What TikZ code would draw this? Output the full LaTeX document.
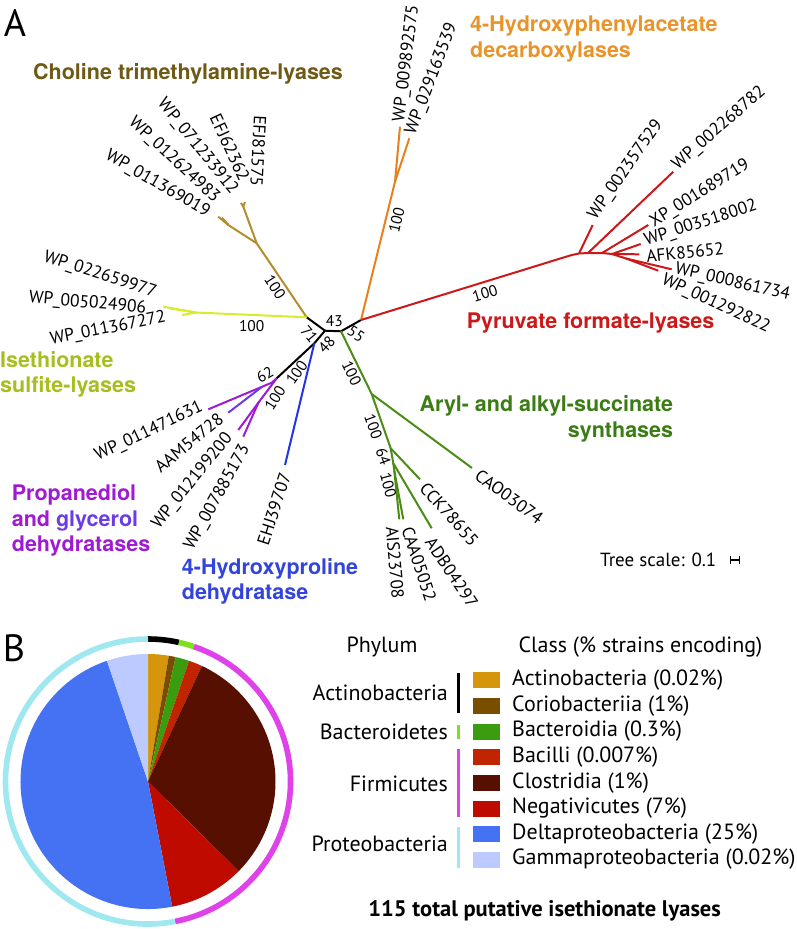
\documentclass[tikz,border=0pt]{standalone}
\usepackage{fontspec}
\setmainfont{PT Sans}
\newfontfamily\headfont{TeX Gyre Heros}

\definecolor{cholbr}{RGB}{178,142,44}
\definecolor{choltx}{RGB}{110,90,20}
\definecolor{hpabr}{RGB}{232,128,30}
\definecolor{hpatx}{RGB}{232,148,42}
\definecolor{pfl}{RGB}{204,24,24}
\definecolor{islbr}{RGB}{216,236,44}
\definecolor{isltx}{RGB}{168,190,30}
\definecolor{assbr}{RGB}{75,140,20}
\definecolor{asstx}{RGB}{60,124,20}
\definecolor{pdbr}{RGB}{160,26,210}
\definecolor{gdbr}{RGB}{106,60,230}
\definecolor{hypbr}{RGB}{34,52,230}
\definecolor{hyptx}{RGB}{51,68,221}
% pie colours
\definecolor{actino}{RGB}{214,150,12}
\definecolor{corio}{RGB}{122,78,0}
\definecolor{bacteroid}{RGB}{60,156,16}
\definecolor{bacilli}{RGB}{192,36,0}
\definecolor{clostr}{RGB}{86,15,0}
\definecolor{negati}{RGB}{191,10,0}
\definecolor{delta}{RGB}{68,114,242}
\definecolor{gamma}{RGB}{188,202,255}
\definecolor{ringgreen}{RGB}{128,224,32}
\definecolor{ringmag}{RGB}{222,66,232}
\definecolor{ringcyan}{RGB}{160,232,240}

\begin{document}
\begin{tikzpicture}[x=1pt,y=-1pt,
    branch/.style={line width=2pt},
    leaf/.style={font=\fontsize{17.5}{17.5}\selectfont, inner sep=0pt},
    boot/.style={font=\fontsize{15.5}{15.5}\selectfont, inner sep=0pt},
    clade/.style={font=\headfont\bfseries\fontsize{21.5}{25.5}\selectfont, inner sep=0pt},
    legtext/.style={font=\fontsize{22}{22}\selectfont, inner sep=0pt},
    swatch/.style={minimum width=27pt, minimum height=16pt, inner sep=0pt},
    panel/.style={font=\fontsize{38}{38}\selectfont, inner sep=0pt}]
    \useasboundingbox (0,0) rectangle (796,929);

    % panel A: tree
    \node[panel] (pa) at (15,22.5) {A};

    % backbone
    \coordinate (nD) at (306.7,317.3);
    \coordinate (nA) at (325,330.7);
    \coordinate (nB) at (341,331.3);
    \coordinate (nC) at (361,320);
    \coordinate (nF) at (314.3,343.3);
    \coordinate (nE) at (276.7,378.3);
    \draw[branch] (nD) -- (nA) -- (nB) -- (nC);
    \draw[branch] (nA) -- (nF) -- (nE);

    % choline trimethylamine-lyases
    \coordinate (cK) at (256.7,243.3);
    \coordinate (c1) at (243.3,206.7);
    \coordinate (c2) at (228.3,225);
    \coordinate (ct1) at (245,202);
    \coordinate (ct2) at (241,203);
    \coordinate (ct3) at (223,219);
    \coordinate (ct4) at (221.7,217.7);
    \coordinate (ct5) at (218.3,216.7);
    \draw[branch,cholbr] (nD) -- (cK) -- (c1) -- (ct1);
    \draw[branch,cholbr] (c1) -- (ct2);
    \draw[branch,cholbr] (cK) -- (c2) -- (ct5);
    \draw[branch,cholbr] (c2) -- (ct4);
    \draw[branch,cholbr] (c2) -- (ct3);

    % isethionate sulfite-lyases
    \coordinate (iN) at (196,312.5);
    \coordinate (it1) at (163.3,306.7);
    \coordinate (it2) at (170,308.5);
    \coordinate (it3) at (182,315);
    \draw[branch,islbr] (nD) -- (iN) -- (it1);
    \draw[branch,islbr] (iN) -- (it2);
    \draw[branch,islbr] (iN) -- (it3);

    % 4-hydroxyphenylacetate decarboxylases
    \coordinate (oN) at (395,181.7);
    \coordinate (ot1) at (400,126.7);
    \coordinate (ot2) at (409.3,138.3);
    \draw[branch,hpabr] (nC) -- (oN) -- (ot1);
    \draw[branch,hpabr] (oN) -- (ot2);

    % pyruvate formate-lyases
    \coordinate (rN) at (571.7,255);
    \coordinate (r1) at (579,253.5);
    \coordinate (r2) at (588,253);
    \coordinate (r3) at (602,253);
    \coordinate (r4) at (612,254);
    \coordinate (r5) at (626,258.5);
    \coordinate (rt1) at (592.7,225);
    \coordinate (rt2) at (673.3,171.7);
    \coordinate (rt3) at (648.3,225);
    \coordinate (rt4) at (640.7,244);
    \coordinate (rt5) at (639.3,254.3);
    \coordinate (rt6) at (671.7,269.3);
    \coordinate (rt7) at (658.3,270.7);
    \draw[branch,pfl] (nC) -- (rN) -- (r1) -- (r2) -- (r3) -- (r4) -- (r5);
    \draw[branch,pfl] (r1) -- (rt1);
    \draw[branch,pfl] (r2) -- (rt2);
    \draw[branch,pfl] (r3) -- (rt3);
    \draw[branch,pfl] (r4) -- (rt4);
    \draw[branch,pfl] (r4) -- (rt5);
    \draw[branch,pfl] (r5) -- (rt6);
    \draw[branch,pfl] (r5) -- (rt7);

    % aryl- and alkyl-succinate synthases
    \coordinate (gG) at (371.7,394);
    \coordinate (gH) at (390.7,448.3);
    \coordinate (gI) at (393.3,463.3);
    \coordinate (gJ) at (394.3,470.7);
    \coordinate (gt1) at (472,468);
    \coordinate (gt2) at (420,479.3);
    \coordinate (gt3) at (431.7,528.3);
    \coordinate (gt4) at (399.3,519.3);
    \coordinate (gt5) at (403.3,519.3);
    \draw[branch,assbr] (nB) -- (gG) -- (gt1);
    \draw[branch,assbr] (gG) -- (gH) -- (gt2);
    \draw[branch,assbr] (gH) -- (gI) -- (gt3);
    \draw[branch,assbr] (gI) -- (gJ) -- (gt4);
    \draw[branch,assbr] (gJ) -- (gt5);

    % propanediol and glycerol dehydratases
    \coordinate (pN) at (271.7,382.7);
    \coordinate (pN2) at (262,386.8);
    \coordinate (pM) at (258.5,402.5);
    \coordinate (pt1) at (208.3,409.3);
    \coordinate (pt2) at (228.3,412.7);
    \coordinate (pt3) at (238.3,430);
    \coordinate (pt4) at (243.3,436.7);
    \draw[branch,pdbr] (nE) -- (pN) -- (pt1);
    \draw[branch,gdbr] (pN2) -- (pt2);
    \draw[branch,pdbr] (nE) -- (pM) -- (pt3);
    \draw[branch,pdbr] (pM) -- (pt4);

    % 4-hydroxyproline dehydratase
    \coordinate (ht1) at (285,465);
    \draw[branch,hypbr] (nF) -- (ht1);

    % leaf names
    \node[leaf, rotate=-93] (efj81575) at (258.3,151) {EFJ81575};
    \node[leaf, rotate=-65] (efj62362) at (230,147.5) {EFJ62362};
    \node[leaf, rotate=-51] (wp071233912) at (197.5,146.7) {WP\_071233912};
    \node[leaf, rotate=-43] (wp012624983) at (174,160) {WP\_012624983};
    \node[leaf, rotate=-30] (wp011369019) at (157.5,184) {WP\_011369019};
    \node[leaf, rotate=-18] (wp022659977) at (100,275) {WP\_022659977};
    \node[leaf, rotate=-5] (wp005024906) at (87.5,303.3) {WP\_005024906};
    \node[leaf, rotate=11] (wp011367272) at (108,329) {WP\_011367272};
    \node[leaf, rotate=83] (wp009892575) at (406.7,63.3) {WP\_009892575};
    \node[leaf, rotate=69] (wp029163539) at (431.7,79.2) {WP\_029163539};
    \node[leaf, rotate=55] (wp002357529) at (625.8,170) {WP\_002357529};
    \node[leaf, rotate=41] (wp002268782) at (719.2,128.3) {WP\_002268782};
    \node[leaf, rotate=32] (xp001689719) at (700,193.3) {XP\_001689719};
    \node[leaf, rotate=18] (wp003518002) at (700.8,223.3) {WP\_003518002};
    \node[leaf, rotate=6] (afk85652) at (685,252.5) {AFK85652};
    \node[leaf, rotate=-13] (wp000861734) at (732.5,282.5) {WP\_000861734};
    \node[leaf, rotate=-25] (wp001292822) at (715.8,304.2) {WP\_001292822};
    \node[leaf, rotate=-36] (cao03074) at (509.2,496.7) {CAO03074};
    \node[leaf, rotate=-48] (cck78655) at (449.2,514.2) {CCK78655};
    \node[leaf, rotate=-56] (adb04297) at (451.7,572.5) {ADB04297};
    \node[leaf, rotate=-72] (caa05052) at (419.2,564.2) {CAA05052};
    \node[leaf, rotate=-85] (ais23708) at (395,562.5) {AIS23708};
    \node[leaf, rotate=25.5] (wp011471631) at (149,431.7) {WP\_011471631};
    \node[leaf, rotate=39] (aam54728) at (189,443) {AAM54728};
    \node[leaf, rotate=51] (wp012199200) at (192.5,481) {WP\_012199200};
    \node[leaf, rotate=61] (wp007885173) at (217.5,497.5) {WP\_007885173};
    \node[leaf, rotate=72] (ehj39707) at (274,509) {EHJ39707};

    % bootstrap values
    \node[boot, rotate=-57] (bs1) at (275,286.7) {100};
    \node[boot] (bs2) at (251.7,326) {100};
    \node[boot] (bs3) at (334.3,321) {43};
    \node[boot, rotate=-50] (bs4) at (309.3,334) {71};
    \node[boot, rotate=48] (bs5) at (326.7,345) {48};
    \node[boot, rotate=-34] (bs6) at (356,334) {55};
    \node[boot, rotate=-64] (bs7) at (351.7,373.3) {100};
    \node[boot, rotate=55] (bs8) at (296.7,372.5) {100};
    \node[boot, rotate=30] (bs9) at (265,375) {62};
    \node[boot, rotate=58] (bs10) at (275,398) {100};
    \node[boot, rotate=76] (bs11) at (396.7,220) {100};
    \node[boot, rotate=17] (bs12) at (485,293.3) {100};
    \node[boot, rotate=-70] (bs13) at (373.3,426.7) {100};
    \node[boot, rotate=-70] (bs14) at (383.3,456.7) {64};
    \node[boot, rotate=-75] (bs15) at (388.3,485) {100};

    % clade names
    \node[clade, choltx, anchor=west] (chol) at (33,74) {Choline trimethylamine-lyases};
    \node[clade, hpatx, anchor=west, align=left] (hpa) at (470,39.2) {4-Hydroxyphenylacetate\\decarboxylases};
    \node[clade, pfl, anchor=west] (pflname) at (466.7,323.3) {Pyruvate formate-lyases};
    \node[clade, asstx, anchor=east, align=right] (ass) at (673.3,418.8) {Aryl- and alkyl-succinate\\synthases};
    \node[clade, isltx, anchor=west, align=left] (isl) at (0,374.2) {Isethionate\\sulfite-lyases};
    \node[clade, pdbr, anchor=west, align=left] (pdd) at (11.7,520.6) {Propanediol\\and {\color{gdbr}glycerol}\\dehydratases};
    \node[clade, hyptx, anchor=west, align=left] (hyp) at (181.7,581.3) {4-Hydroxyproline\\dehydratase};

    % tree scale
    \node[leaf, font=\fontsize{19}{19}\selectfont, anchor=west] (tscale) at (600,560) {Tree scale: 0.1};
    \coordinate (sb1) at (730,560);
    \coordinate (sb2) at (740,560);
    \draw[line width=1.2pt, |-|] (sb1) -- (sb2);

    % panel B: pie
    \node[panel] (pb) at (14,648) {B};
    \begin{scope}[shift={(148,781.5)}, y=1pt]
    \fill[actino] (0,0) -- (90:127.5) arc (90:80.609:127.5) -- cycle;
    \fill[corio] (0,0) -- (80.609:127.5) arc (80.609:77.478:127.5) -- cycle;
    \fill[bacteroid] (0,0) -- (77.478:127.5) arc (77.478:71.217:127.5) -- cycle;
    \fill[bacilli] (0,0) -- (71.217:127.5) arc (71.217:64.957:127.5) -- cycle;
    \fill[clostr] (0,0) -- (64.957:127.5) arc (64.957:-44.609:127.5) -- cycle;
    \fill[negati] (0,0) -- (-44.609:127.5) arc (-44.609:-79.043:127.5) -- cycle;
    \fill[delta] (0,0) -- (-79.043:127.5) arc (-79.043:-251.217:127.5) -- cycle;
    \fill[gamma] (0,0) -- (-251.217:127.5) arc (-251.217:-270:127.5) -- cycle;
    % phylum ring
    \draw[line width=5.6pt, black] (90:142.5) arc (90:77.478:142.5);
    \draw[line width=5.6pt, ringgreen] (77.478:142.5) arc (77.478:71.217:142.5);
    \draw[line width=5.6pt, ringmag] (71.217:142.5) arc (71.217:-79.043:142.5);
    \draw[line width=5.6pt, ringcyan] (-79.043:142.5) arc (-79.043:-270:142.5);
    \end{scope}

    % legend
    \node[legtext] (phy) at (382,647) {Phylum};
    \node[legtext] (cls) at (640.5,647) {Class (\% strains encoding)};

    \node[swatch, fill=actino] (s1) at (486.5,680) {};
    \node[swatch, fill=corio] (s2) at (486.5,705.7) {};
    \node[swatch, fill=bacteroid] (s3) at (486.5,731.5) {};
    \node[swatch, fill=bacilli] (s4) at (486.5,757.3) {};
    \node[swatch, fill=clostr] (s5) at (486.5,783) {};
    \node[swatch, fill=negati] (s6) at (486.5,808.5) {};
    \node[swatch, fill=delta] (s7) at (486.5,834) {};
    \node[swatch, fill=gamma] (s8) at (486.5,859.5) {};

    \node[legtext, anchor=west] (c1t) at (512,680) {Actinobacteria (0.02\%)};
    \node[legtext, anchor=west] (c2t) at (512,705.7) {Coriobacteriia (1\%)};
    \node[legtext, anchor=west] (c3t) at (512,731.5) {Bacteroidia (0.3\%)};
    \node[legtext, anchor=west] (c4t) at (512,757.3) {Bacilli (0.007\%)};
    \node[legtext, anchor=west] (c5t) at (512,783) {Clostridia (1\%)};
    \node[legtext, anchor=west] (c6t) at (512,808.5) {Negativicutes (7\%)};
    \node[legtext, anchor=west] (c7t) at (512,834) {Deltaproteobacteria (25\%)};
    \node[legtext, anchor=west] (c8t) at (512,859.5) {Gammaproteobacteria (0.02\%)};

    \node[legtext, anchor=east] (p1t) at (448,692.7) {Actinobacteria};
    \node[legtext, anchor=east] (p2t) at (448,732.3) {Bacteroidetes};
    \node[legtext, anchor=east] (p3t) at (448,784.3) {Firmicutes};
    \node[legtext, anchor=east] (p4t) at (448,844.3) {Proteobacteria};

    \draw[line width=3pt, black] (458.5,672.7) -- (458.5,713.3);
    \draw[line width=3pt, ringgreen] (458.5,725) -- (458.5,739.3);
    \draw[line width=3pt, ringmag] (458.5,749.3) -- (458.5,816.7);
    \draw[line width=3pt, ringcyan] (458.5,827.3) -- (458.5,868.3);

    \node[legtext, font=\bfseries\fontsize{22.5}{22.5}\selectfont] (total) at (544.7,911) {115 total putative isethionate lyases};
\end{tikzpicture}
\end{document}
